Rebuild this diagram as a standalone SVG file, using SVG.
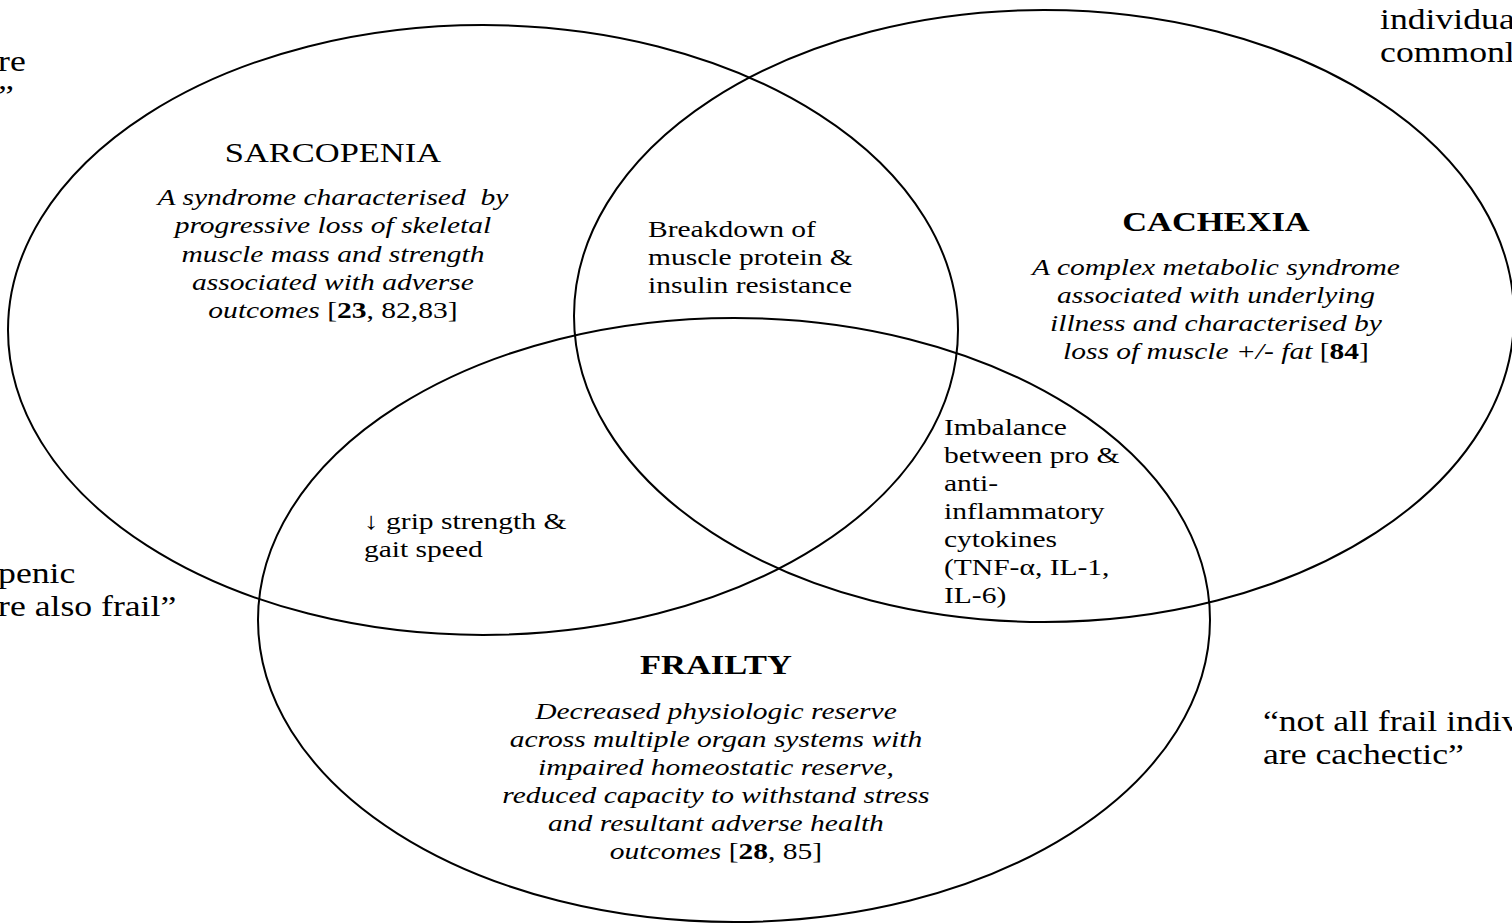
<svg xmlns="http://www.w3.org/2000/svg" width="1512" height="924" viewBox="0 0 1512 924">
<style>
.c{fill:none;stroke:#000;stroke-width:2}
text{font-family:"Liberation Serif","Times New Roman",serif;fill:#000}
.t{font-size:24px}
.i{font-size:24px;font-style:italic}
.h{font-size:28px}
.hb{font-size:28px;font-weight:bold}
.e{font-size:29px}
.m{text-anchor:middle}
.pre{white-space:pre}
</style>
<rect width="1512" height="924" fill="#fff"/>
<g id="connectors"></g>
<g id="sarcopenia">
<ellipse class="c" cx="483" cy="330" rx="475" ry="305"/>
<g transform="scale(1.23,1)">
<text class="h m" x="270.7" y="162">SARCOPENIA</text>
<text class="i m pre" x="270.7" y="205">A syndrome characterised  by</text>
<text class="i m" x="270.7" y="233">progressive loss of skeletal</text>
<text class="i m" x="270.7" y="262">muscle mass and strength</text>
<text class="i m" x="270.7" y="290">associated with adverse</text>
<text class="i m" x="270.7" y="318">outcomes <tspan font-style="normal">[<tspan font-weight="bold">23</tspan>, 82,83]</tspan></text>
</g>
</g>
<g id="cachexia">
<ellipse class="c" cx="1044" cy="316" rx="470" ry="306"/>
<g transform="scale(1.23,1)">
<text class="hb m" x="988.6" y="231">CACHEXIA</text>
<text class="i m" x="988.6" y="275">A complex metabolic syndrome</text>
<text class="i m" x="988.6" y="303">associated with underlying</text>
<text class="i m" x="988.6" y="331">illness and characterised by</text>
<text class="i m" x="988.6" y="359">loss of muscle +/- fat <tspan font-style="normal">[<tspan font-weight="bold">84</tspan>]</tspan></text>
</g>
</g>
<g id="frailty">
<ellipse class="c" cx="734" cy="620" rx="476" ry="302"/>
<g transform="scale(1.23,1)">
<text class="hb m" x="582.1" y="674">FRAILTY</text>
<text class="i m" x="582.1" y="719">Decreased physiologic reserve</text>
<text class="i m" x="582.1" y="747">across multiple organ systems with</text>
<text class="i m" x="582.1" y="775">impaired homeostatic reserve,</text>
<text class="i m" x="582.1" y="803">reduced capacity to withstand stress</text>
<text class="i m" x="582.1" y="831">and resultant adverse health</text>
<text class="i m" x="582.1" y="859">outcomes <tspan font-style="normal">[<tspan font-weight="bold">28</tspan>, 85]</tspan></text>
</g>
</g>
<g id="overlap-sc" transform="scale(1.23,1)">
<text class="t" x="526.8" y="237">Breakdown of</text>
<text class="t" x="526.8" y="265">muscle protein &amp;</text>
<text class="t" x="526.8" y="293">insulin resistance</text>
</g>
<g id="overlap-cf" transform="scale(1.23,1)">
<text class="t" x="767.5" y="435">Imbalance</text>
<text class="t" x="767.5" y="463">between pro &amp;</text>
<text class="t" x="767.5" y="491">anti-</text>
<text class="t" x="767.5" y="519">inflammatory</text>
<text class="t" x="767.5" y="547">cytokines</text>
<text class="t" x="767.5" y="575">(TNF-α, IL-1,</text>
<text class="t" x="767.5" y="603">IL-6)</text>
</g>
<g id="overlap-sf" transform="scale(1.23,1)">
<text class="t" x="295.9" y="529">↓ grip strength &amp;</text>
<text class="t" x="295.9" y="557">gait speed</text>
</g>
<g id="notes" transform="scale(1.23,1)">
<text class="e" x="-1.6" y="71">re</text>
<text class="e" x="-1.6" y="105">”</text>
<text class="e" x="1122" y="29">individua</text>
<text class="e" x="1122" y="62">commonl</text>
<text class="e" x="-1.6" y="583">penic</text>
<text class="e" x="-1.6" y="616">re also frail”</text>
<text class="e" x="1026.8" y="731">“not all frail indiv</text>
<text class="e" x="1026.8" y="764">are cachectic”</text>
</g>
</svg>
